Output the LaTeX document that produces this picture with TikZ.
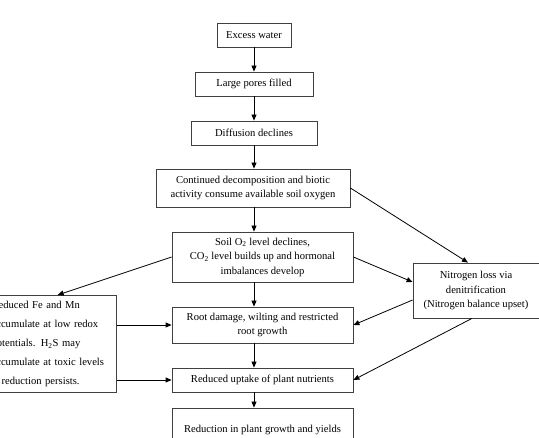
\documentclass[tikz,border=0pt]{standalone}
\usepackage{fontspec}
\setmainfont{Liberation Serif}
\usetikzlibrary{arrows.meta,calc,positioning}

\begin{document}
\begin{tikzpicture}[x=1pt, y=-1pt,
    box/.style={draw=black!75, line width=0.8pt, align=center, inner sep=0pt,
                font=\fontsize{10.6}{14.5}\selectfont},
    link/.style={-{Triangle[length=6pt, width=5pt]}, line width=0.8pt}]
  \useasboundingbox (0,0) rectangle (539,438);

  % main chain
  \node[box, minimum width=74, minimum height=24] (water) at (254,35) {Excess water};
  \node[box, minimum width=118, minimum height=24] (pores) at (254,84) {Large pores filled};
  \node[box, minimum width=126, minimum height=24] (diffusion) at (254,133) {Diffusion declines};
  \node[box, minimum width=194, minimum height=38] (decomp) at (253,188)
        {Continued decomposition and biotic\\activity consume available soil oxygen};
  \node[box, minimum width=181, minimum height=50] (oxygen) at (262.5,257)
        {Soil O\textsubscript{2} level declines,\\CO\textsubscript{2} level builds up and hormonal\\imbalances develop};
  \node[box, minimum width=181, minimum height=36] (root) at (262.5,325)
        {Root damage, wilting and restricted\\root growth};
  \node[box, minimum width=181, minimum height=24] (uptake) at (262.5,380)
        {Reduced uptake of plant nutrients};
  \node[box, minimum width=181, minimum height=44] (growth) at (262.5,430)
        {Reduction in plant growth and yields};

  % side boxes
  \node[box, minimum width=126, minimum height=55] (nitrogen) at (476,290.5)
        {Nitrogen loss via\\denitrification\\(Nitrogen balance upset)};
  \node[box, anchor=north east, text width=118, inner xsep=7pt, minimum height=97,
        align=left, font=\fontsize{10.6}{18.8}\selectfont] (metals) at (117,295)
        {Reduced Fe and Mn\\accumulate at low redox\\potentials. H\textsubscript{2}S may\\accumulate at toxic levels\\if reduction persists.};

  % arrows down the middle
  \coordinate (spine) at (254,0);
  \draw[link] (water) -- (pores);
  \draw[link] (pores) -- (diffusion);
  \draw[link] (diffusion.south -| spine) -- (decomp.north -| spine);
  \draw[link] (decomp.south -| spine) -- (oxygen.north -| spine);
  \draw[link] (oxygen.south -| spine) -- (root.north -| spine);
  \draw[link] (root.south -| spine) -- (uptake.north -| spine);
  \draw[link] (uptake.south -| spine) -- (growth.north -| spine);

  % arrows to and from the sides
  \draw[link] (decomp.east) -- ([xshift=-8pt]nitrogen.north);
  \draw[link] (oxygen.east) -- ([yshift=8.5pt]nitrogen.west);
  \draw[link] ([yshift=-9.5pt]nitrogen.west) -- (root.east);
  \draw[link] ([xshift=-4pt]nitrogen.south) -- (uptake.east);
  \draw[link] (oxygen.west) -- ([xshift=7pt]metals.north);
  \draw[link] (metals.east |- root.west) -- (root.west);
  \draw[link] (metals.east |- uptake.west) -- (uptake.west);
\end{tikzpicture}
\end{document}
